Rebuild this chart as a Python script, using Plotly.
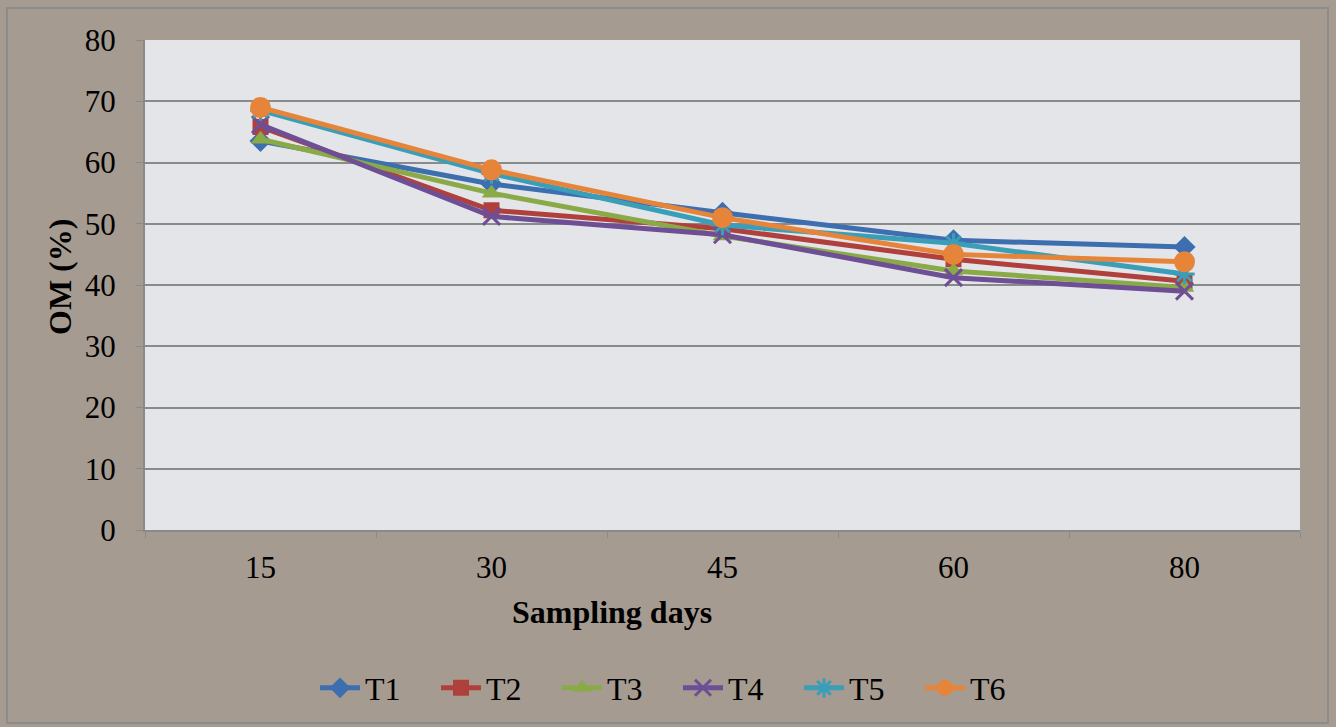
import plotly.graph_objects as go

days = ["15", "30", "45", "60", "80"]
series_names = ["T1", "T2", "T3", "T4", "T5", "T6"]
T1 = [63.5, 56.5, 51.8, 47.3, 46.2]
T2 = [65.8, 52.2, 49.2, 44.2, 40.6]
T3 = [63.8, 55.0, 48.0, 42.3, 39.6]
T4 = [66.2, 51.2, 48.2, 41.2, 39.0]
T5 = [68.5, 58.2, 49.8, 46.8, 41.8]
T6 = [69.0, 58.8, 51.0, 45.0, 43.8]
y_ticks = [0, 10, 20, 30, 40, 50, 60, 70, 80]

values = [T1, T2, T3, T4, T5, T6]
colors = ["#3C6EB0", "#B0403C", "#8AAA48", "#6E4E94", "#3A9EB8", "#E6843A"]
symbols = ["diamond", "square", "triangle-up", "x-thin-open", "asterisk-open", "circle"]
sizes = [17, 16, 17, 17, 17, 21]

FONT = "Liberation Serif, Times New Roman, serif"

fig = go.Figure()
for name, vals, c, s, sz in zip(series_names, values, colors, symbols, sizes):
    open_sym = s.endswith("open")
    fig.add_trace(go.Scatter(
        x=days, y=vals, name=name, mode="lines+markers",
        line=dict(color=c, width=5),
        marker=dict(symbol=s, size=sz, color=c,
                    line=dict(color=c, width=3 if open_sym else 0)),
    ))

L, R, T, B = 145, 36, 40, 197
W, H = 1336, 727
pw, ph = W - L - R, H - T - B

def px_x(p):
    return (p - L) / pw

def px_y(p):
    return (H - B - p) / ph

fig.update_layout(
    width=W, height=H,
    margin=dict(l=L, r=R, t=T, b=B),
    paper_bgcolor="#a69b90",
    plot_bgcolor="#e4e5e8",
    font=dict(family=FONT, color="black", size=31),
    showlegend=True,
    legend=dict(
        orientation="h", x=px_x(678), y=px_y(688), xanchor="center", yanchor="middle",
        font=dict(family=FONT, size=32, color="black"),
        bgcolor="rgba(0,0,0,0)", itemwidth=40, tracegroupgap=0,
        entrywidth=66, entrywidthmode="pixels",
    ),
    xaxis=dict(
        type="category", range=[-0.5, 4.5],
        showgrid=False, showline=True, linecolor="#8a8a8a", linewidth=2,
        ticks="outside", tickson="boundaries", ticklen=6, tickcolor="#8a8a8a",
        ticklabelstandoff=9,
        tickfont=dict(family=FONT, size=31), fixedrange=True,
    ),
    yaxis=dict(
        range=[0, 80], tickvals=y_ticks, showgrid=True, gridcolor="#8a8a8a", gridwidth=2,
        showline=True, linecolor="#8a8a8a", linewidth=2, zeroline=False,
        ticks="outside", ticklen=7, tickcolor="#8a8a8a",
        ticklabelstandoff=14,
        tickfont=dict(family=FONT, size=31), fixedrange=True,
    ),
    annotations=[
        dict(text="<b>OM (%)</b>", x=px_x(60), y=px_y(277), xref="paper", yref="paper",
             showarrow=False, textangle=-90, font=dict(family=FONT, size=32),
             xanchor="center", yanchor="middle"),
        dict(text="<b>Sampling days</b>", x=px_x(612), y=px_y(612), xref="paper", yref="paper",
             showarrow=False, font=dict(family=FONT, size=32),
             xanchor="center", yanchor="middle"),
    ],
    shapes=[
        dict(type="rect", xref="paper", yref="paper",
             x0=px_x(7), x1=px_x(1328), y0=px_y(723), y1=px_y(8),
             line=dict(color="#8c8c8c", width=2), fillcolor="rgba(0,0,0,0)", layer="below"),
    ],
)

fig.write_html("out.html")
